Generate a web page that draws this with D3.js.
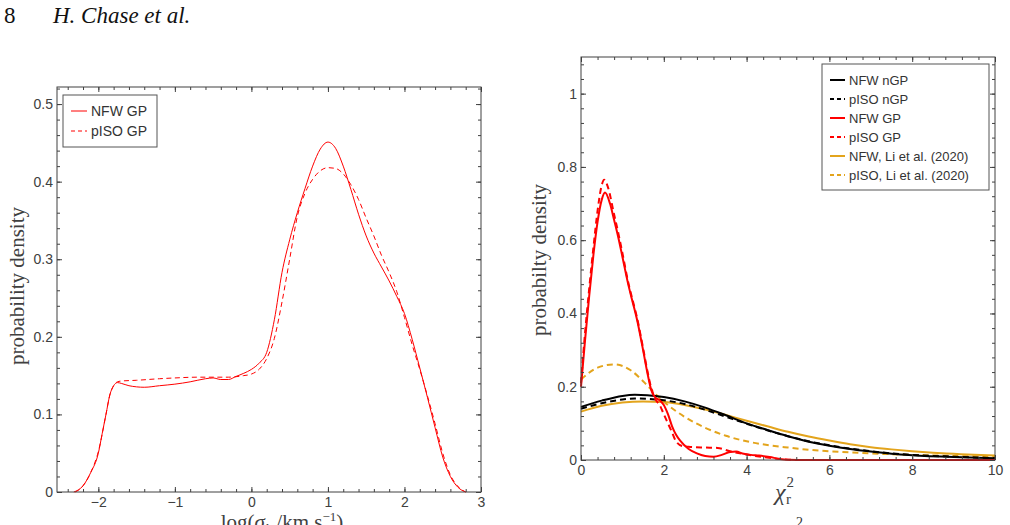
<!DOCTYPE html>
<html lang="en">
<head>
<meta charset="UTF-8">
<title>Chase et al. fig</title>
<script src="https://d3js.org/d3.v7.min.js"></script>
<style>
  body { margin: 0; background: #fff; }
  .tick text { font-family: "Liberation Sans", Arial, sans-serif; fill: #404040; }
  .serif { font-family: "Liberation Serif", "Times New Roman", serif; }
</style>
</head>
<body>
<svg width="1010" height="525"></svg>
<script>
    // ---- left panel data: log(sigma) vs probability density
    const sigmaNFW = [-2.32,-2.2,-2.1,-2.0,-1.95,-1.9,-1.85,-1.8,-1.75,-1.7,-1.6,-1.4,-1.2,-1.0,-0.8,-0.6,-0.5,-0.4,-0.3,-0.2,-0.1,0,0.1,0.2,0.3,0.4,0.5,0.6,0.7,0.8,0.9,1.0,1.1,1.2,1.3,1.4,1.5,1.6,1.7,1.8,1.9,2.0,2.1,2.2,2.3,2.4,2.5,2.6,2.7,2.8];
    const densNFWGP = [0,0.008,0.025,0.05,0.075,0.1,0.125,0.137,0.141,0.14,0.137,0.135,0.137,0.139,0.142,0.146,0.147,0.145,0.145,0.149,0.153,0.158,0.166,0.18,0.222,0.283,0.325,0.36,0.391,0.42,0.442,0.451,0.443,0.42,0.39,0.358,0.33,0.308,0.29,0.272,0.252,0.23,0.197,0.16,0.122,0.083,0.045,0.02,0.006,0];

    const sigmaPISO = [-2.3,-2.2,-2.1,-2.0,-1.9,-1.85,-1.8,-1.75,-1.7,-1.5,-1.2,-1.0,-0.7,-0.5,-0.3,-0.1,0,0.1,0.2,0.3,0.4,0.5,0.6,0.7,0.8,0.9,1.0,1.1,1.2,1.3,1.4,1.5,1.6,1.7,1.8,1.9,2.0,2.1,2.2,2.3,2.4,2.5,2.6,2.7,2.8];
    const densPISOGP = [0,0.008,0.025,0.052,0.1,0.125,0.137,0.142,0.143,0.144,0.146,0.147,0.148,0.148,0.148,0.15,0.152,0.158,0.172,0.198,0.245,0.3,0.355,0.385,0.403,0.414,0.418,0.417,0.41,0.396,0.377,0.353,0.33,0.305,0.283,0.258,0.225,0.19,0.158,0.124,0.088,0.05,0.022,0.007,0];

    const leftXTicks = [-2,-1,0,1,2,3];
    const leftYTicks = [0,0.1,0.2,0.3,0.4,0.5];
    const leftLegend = ["NFW GP","pISO GP"];

    // ---- right panel data: reduced chi^2 vs probability density
    const chiNFWnGP = [0,0.5,1,1.3,1.6,2,2.5,3,3.5,4,4.5,5,5.5,6,6.5,7,7.5,8,9,10];
    const densNFWnGP = [0.145,0.162,0.175,0.178,0.177,0.172,0.16,0.143,0.122,0.1,0.082,0.065,0.05,0.039,0.03,0.023,0.017,0.013,0.008,0.005];

    const chiPISOnGP = [0,0.5,1,1.3,1.6,2,2.5,3,3.5,4,4.5,5,5.5,6,6.5,7,7.5,8,9,10];
    const densPISOnGP = [0.14,0.155,0.165,0.168,0.167,0.163,0.153,0.137,0.118,0.099,0.081,0.065,0.051,0.04,0.031,0.024,0.018,0.014,0.009,0.005];

    const chiNFWGP = [0,0.1,0.2,0.3,0.4,0.5,0.58,0.7,0.8,0.9,1.0,1.14,1.25,1.35,1.5,1.6,1.7,1.8,1.9,2.0,2.1,2.2,2.3,2.4,2.6,2.8,3.0,3.2,3.4,3.6,3.75,3.9,4.1,4.3,4.56,4.8,5.0,5.5,10];
    const densNFWGPchi = [0.2,0.33,0.45,0.56,0.65,0.71,0.73,0.7,0.655,0.608,0.555,0.48,0.43,0.385,0.3,0.24,0.19,0.17,0.163,0.15,0.125,0.092,0.068,0.052,0.03,0.018,0.011,0.009,0.014,0.022,0.023,0.018,0.014,0.012,0.008,0.003,0.001,0,0];

    const chiPISOGP = [0,0.1,0.2,0.3,0.4,0.5,0.56,0.65,0.8,0.9,1.0,1.14,1.25,1.35,1.5,1.6,1.7,1.8,1.9,2.0,2.1,2.2,2.3,2.45,2.6,3.0,3.3,3.6,4.0,4.4,4.8,5.2,10];
    const densPISOGPchi = [0.21,0.35,0.47,0.58,0.68,0.75,0.765,0.745,0.67,0.62,0.565,0.485,0.435,0.39,0.305,0.245,0.195,0.165,0.15,0.125,0.1,0.075,0.05,0.038,0.036,0.034,0.033,0.024,0.015,0.008,0.003,0,0];

    const chiNFWLi = [0,0.5,1,1.5,2,2.5,3,3.5,4,4.5,5,5.5,6,6.5,7,7.5,8,8.5,9,9.5,10];
    const densNFWLi = [0.132,0.148,0.157,0.16,0.158,0.15,0.138,0.123,0.107,0.092,0.077,0.064,0.053,0.043,0.035,0.029,0.024,0.02,0.017,0.014,0.012];

    const chiPISOLi = [0,0.4,0.8,1.2,1.5,1.8,2.1,2.5,3,3.5,4,4.5,5,5.5,6,7,8,9,10];
    const densPISOLi = [0.22,0.252,0.261,0.245,0.215,0.18,0.15,0.118,0.088,0.066,0.051,0.041,0.034,0.028,0.024,0.018,0.014,0.011,0.009];

    const rightXTicks = [0,2,4,6,8,10];
    const rightYTicks = [0,0.2,0.4,0.6,0.8,1];
    const rightLegend = ["NFW nGP","pISO nGP","NFW GP","pISO GP","NFW, Li et al. (2020)","pISO, Li et al. (2020)"];

    const RED = "#ff0000", BLACK = "#000000", GOLD = "#e3a41c";
    const AXIS = "#404040";

    let svg = d3.select("svg");

    // page header
    svg.append("text").attr("class","serif").attr("x",4).attr("y",23)
        .attr("font-size",23).attr("fill","#111").text("8");
    svg.append("text").attr("class","serif").attr("x",53).attr("y",23)
        .attr("font-size",23).attr("font-style","italic").attr("fill","#111").text("H. Chase et al.");

    // draws the boxed MATLAB-like frame with inward ticks on all four sides
    function frame(g, x, y, xt, yt, xMinorStep, yMinorStep, fontSize, major, minor) {
        let [x0, x1] = x.range(), [y0, y1] = y.range();
        let xd = x.domain(), yd = y.domain();
        let xMinor = d3.range(Math.ceil(xd[0]/xMinorStep)*xMinorStep, xd[1]+1e-9, xMinorStep);
        let yMinor = d3.range(0, yd[1]+1e-9, yMinorStep);

        g.append("rect").attr("x",x0).attr("y",y1).attr("width",x1-x0).attr("height",y0-y1)
            .attr("fill","none").attr("stroke",AXIS).attr("stroke-width",1);

        let ax = [
            [d3.axisBottom(x), y0, true, xt, xMinor, "x"],
            [d3.axisTop(x), y1, false, xt, xMinor, "x"],
            [d3.axisLeft(y), x0, true, yt, yMinor, "y"],
            [d3.axisRight(y), x1, false, yt, yMinor, "y"]
        ];
        ax.forEach(([axis, pos, labels, ticks, minors, dir]) => {
            let tr = dir === "x" ? `translate(0,${pos})` : `translate(${pos},0)`;
            // minor ticks
            let m = g.append("g").attr("transform", tr)
                .call(axis.tickValues(minors).tickSize(-minor).tickFormat(""));
            m.select(".domain").remove();
            m.selectAll("line").attr("stroke",AXIS);
            let a = g.append("g").attr("transform", tr)
                .call(axis.tickValues(ticks).tickSize(-major).tickPadding(dir === "x" ? 5 : 4)
                    .tickFormat(labels ? d3.format("~g") : ""));
            a.select(".domain").remove();
            a.selectAll("line").attr("stroke",AXIS);
            a.selectAll("text").attr("font-size",fontSize);
        });
    }

    function legend(g, x, y, w, h, items, rowH, fontSize, lineLen) {
        g.append("rect").attr("x",x).attr("y",y).attr("width",w).attr("height",h)
            .attr("fill","#fff").attr("stroke","#555").attr("stroke-width",1);
        items.forEach((it, i) => {
            let cy = y + 16 + i*rowH;
            g.append("line").attr("x1",x+8).attr("x2",x+8+lineLen).attr("y1",cy).attr("y2",cy)
                .attr("stroke",it.color).attr("stroke-width",it.width)
                .attr("stroke-dasharray",it.dash || null);
            g.append("text").attr("x",x+12+lineLen).attr("y",cy).attr("dy","0.35em")
                .attr("font-family",'"Liberation Sans", Arial, sans-serif')
                .attr("font-size",fontSize).attr("fill","#333").text(it.label);
        });
    }

    // ================= left panel =================
    let xL = d3.scaleLinear().domain([-2.54, 3]).range([57, 481]);
    let yL = d3.scaleLinear().domain([0, 0.522]).range([492, 87]);
    let gL = svg.append("g");

    let lineL = d3.line().x(d => xL(d[0])).y(d => yL(d[1])).curve(d3.curveMonotoneX);
    gL.append("path").datum(d3.zip(sigmaPISO, densPISOGP)).attr("d", lineL)
        .attr("fill","none").attr("stroke",RED).attr("stroke-width",1).attr("stroke-dasharray","5,3.5");
    gL.append("path").datum(d3.zip(sigmaNFW, densNFWGP)).attr("d", lineL)
        .attr("fill","none").attr("stroke",RED).attr("stroke-width",1);

    frame(gL, xL, yL, leftXTicks, leftYTicks, 0.2, 0.02, 14, 5, 3);

    legend(gL, 63, 95, 94, 52, [
        {label: leftLegend[0], color: RED, width: 1},
        {label: leftLegend[1], color: RED, width: 1, dash: "4,3"}
    ], 20, 14, 16);

    gL.append("text").attr("class","serif")
        .attr("transform","translate(24,286) rotate(-90)")
        .attr("text-anchor","middle").attr("font-size",21).attr("fill","#404040")
        .text("probability density");

    // axis title sits on the page's lower edge, as in the original figure
    let xlab = gL.append("text").attr("class","serif").attr("x",282).attr("y",529)
        .attr("text-anchor","middle").attr("font-size",21).attr("fill","#404040");
    xlab.append("tspan").text("log(");
    xlab.append("tspan").attr("font-style","italic").text("σ");
    xlab.append("tspan").attr("font-size",14).attr("dy",5).attr("font-style","italic").text("k");
    xlab.append("tspan").attr("dy",-5).text(" /km s");
    xlab.append("tspan").attr("font-size",13).attr("dy",-8).text("−1");
    xlab.append("tspan").attr("dy",8).text(")");

    // ================= right panel =================
    let xR = d3.scaleLinear().domain([0, 10]).range([581, 995]);
    let yR = d3.scaleLinear().domain([0, 1.1]).range([460, 57]);
    let gR = svg.append("g");
    let lineR = d3.line().x(d => xR(d[0])).y(d => yR(d[1])).curve(d3.curveMonotoneX);

    const rightSeries = [
        {x: chiPISOLi, y: densPISOLi, color: GOLD, dash: "6,4"},
        {x: chiNFWLi, y: densNFWLi, color: GOLD},
        {x: chiPISOnGP, y: densPISOnGP, color: BLACK, dash: "6,4"},
        {x: chiNFWnGP, y: densNFWnGP, color: BLACK},
        {x: chiPISOGP, y: densPISOGPchi, color: RED, dash: "6,4"},
        {x: chiNFWGP, y: densNFWGPchi, color: RED}
    ];
    rightSeries.forEach(s => {
        gR.append("path").datum(d3.zip(s.x, s.y)).attr("d", lineR)
            .attr("fill","none").attr("stroke",s.color).attr("stroke-width",2)
            .attr("stroke-dasharray",s.dash || null);
    });

    frame(gR, xR, yR, rightXTicks, rightYTicks, 0.4, 0.04, 14, 5, 3);

    legend(gR, 822, 64, 167, 126, [
        {label: rightLegend[0], color: BLACK, width: 2},
        {label: rightLegend[1], color: BLACK, width: 2, dash: "4,3"},
        {label: rightLegend[2], color: RED, width: 2},
        {label: rightLegend[3], color: RED, width: 2, dash: "4,3"},
        {label: rightLegend[4], color: GOLD, width: 2},
        {label: rightLegend[5], color: GOLD, width: 2, dash: "4,3"}
    ], 19, 13, 15);

    gR.append("text").attr("class","serif")
        .attr("transform","translate(546,260) rotate(-90)")
        .attr("text-anchor","middle").attr("font-size",21).attr("fill","#404040")
        .text("probabilty density");

    let chiLab = gR.append("text").attr("class","serif").attr("x",775).attr("y",500)
        .attr("font-size",24).attr("fill","#404040");
    chiLab.append("tspan").attr("font-style","italic").text("χ");
    chiLab.append("tspan").attr("font-size",15).attr("dx",1).attr("dy",-13).text("2");
    chiLab.append("tspan").attr("font-size",15).attr("dx",-8).attr("dy",17).text("r");

    // fragment of the caption below the figure
    svg.append("text").attr("class","serif").attr("x",796).attr("y",527)
        .attr("font-size",14).attr("fill","#333").text("2");
</script>
</body>
</html>
